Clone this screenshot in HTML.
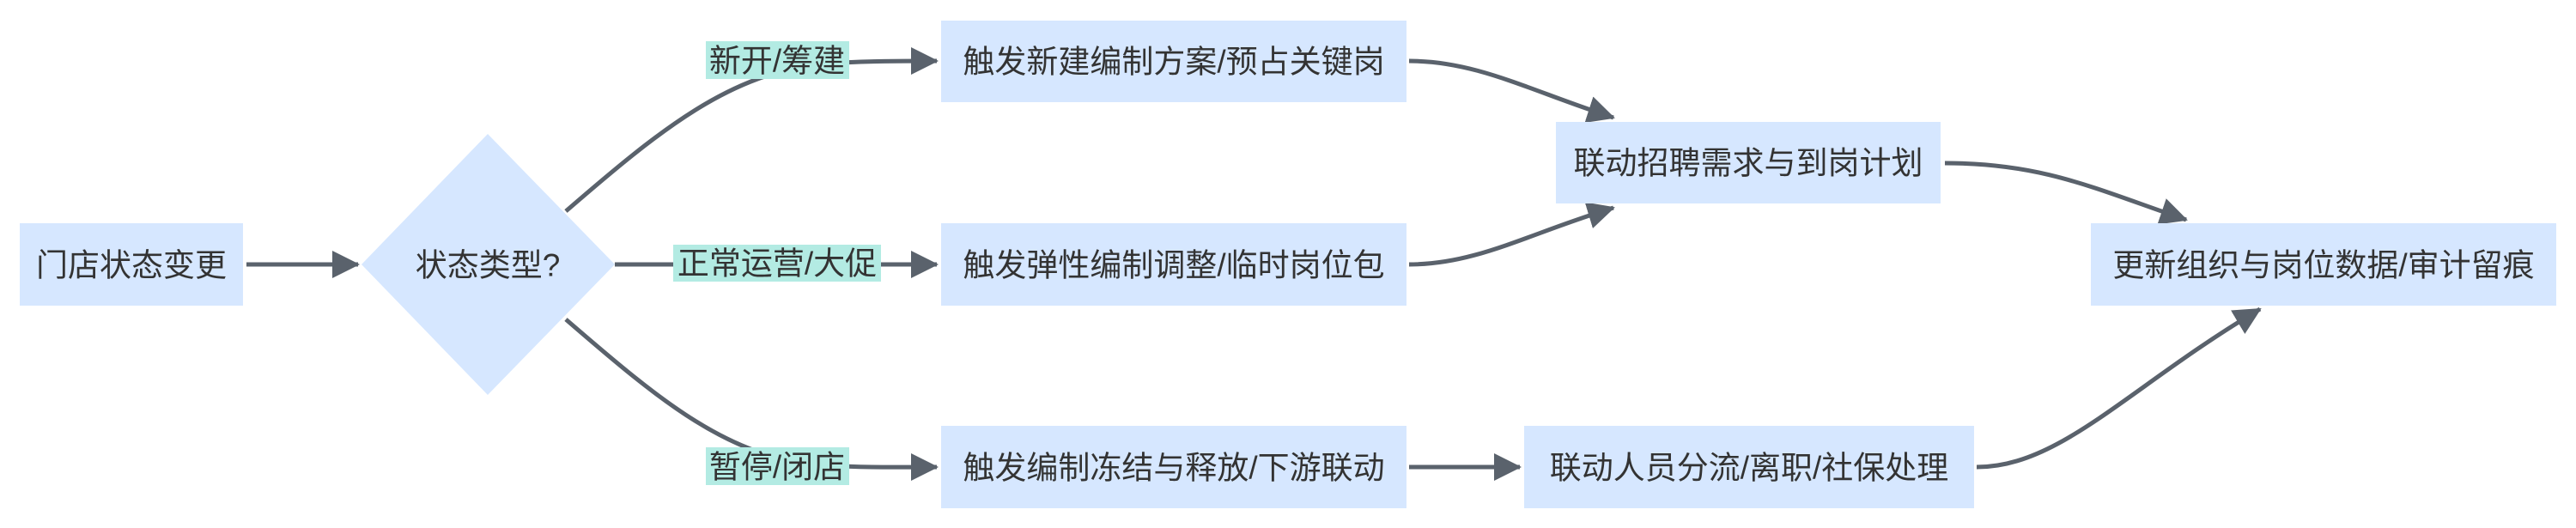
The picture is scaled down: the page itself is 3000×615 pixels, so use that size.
<!DOCTYPE html>
<html><head><meta charset="utf-8"><style>
html,body{margin:0;padding:0;background:#fff;}
svg{display:block;}
text{font-family:"Liberation Sans","Noto Sans CJK SC",sans-serif;font-size:37px;fill:#333;}
</style></head><body>
<svg width="3000" height="615" viewBox="0 0 3000 615" xmlns="http://www.w3.org/2000/svg">
<defs>
<marker id="ah" markerUnits="userSpaceOnUse" markerWidth="34" markerHeight="34" refX="30" refY="16" orient="auto">
<path d="M0,0 L32,16 L0,32 z" fill="#5a626c"/>
</marker>
</defs>
<g fill="none" stroke="#5a626c" stroke-width="5">
<path d="M287,308 L417,308" marker-end="url(#ah)"/>
<path d="M659,246 C770,150 850,85 960,74 C1010,71 1050,71 1091,71" marker-end="url(#ah)"/>
<path d="M716,308 L1091,308" marker-end="url(#ah)"/>
<path d="M659,372 C770,468 850,535 960,542 C1010,545 1050,544 1091,544" marker-end="url(#ah)"/>
<path d="M1641,71 C1720,71 1780,105 1879,137" marker-end="url(#ah)"/>
<path d="M1641,308 C1720,308 1780,272 1879,242" marker-end="url(#ah)"/>
<path d="M1641,544 L1770,544" marker-end="url(#ah)"/>
<path d="M2265,190 C2380,190 2440,220 2546,256" marker-end="url(#ah)"/>
<path d="M2302,544 C2400,544 2480,450 2632,360" marker-end="url(#ah)"/>
</g>
<g fill="#d6e7ff">
<rect x="23" y="260" width="260" height="96"/>
<polygon points="568,156 716,308 568,460 421,308"/>
<rect x="1096" y="24" width="542" height="95"/>
<rect x="1096" y="260" width="542" height="96"/>
<rect x="1096" y="496" width="542" height="96"/>
<rect x="1812" y="142" width="448" height="95"/>
<rect x="1775" y="496" width="524" height="96"/>
<rect x="2435" y="260" width="542" height="96"/>
</g>
<g fill="#b3ebe3">
<rect x="822" y="48" width="167" height="44"/>
<rect x="784" y="285" width="242" height="43"/>
<rect x="822" y="521" width="167" height="44"/>
</g>
<g text-anchor="middle" dominant-baseline="central">
<text x="153" y="309">门店状态变更</text>
<text x="568" y="309">状态类型?</text>
<text x="905" y="71">新开/筹建</text>
<text x="905" y="307">正常运营/大促</text>
<text x="905" y="544">暂停/闭店</text>
<text x="1367" y="72">触发新建编制方案/预占关键岗</text>
<text x="1367" y="309">触发弹性编制调整/临时岗位包</text>
<text x="1367" y="545">触发编制冻结与释放/下游联动</text>
<text x="2036" y="190">联动招聘需求与到岗计划</text>
<text x="2037" y="545">联动人员分流/离职/社保处理</text>
<text x="2706" y="309">更新组织与岗位数据/审计留痕</text>
</g>
</svg>
</body></html>
